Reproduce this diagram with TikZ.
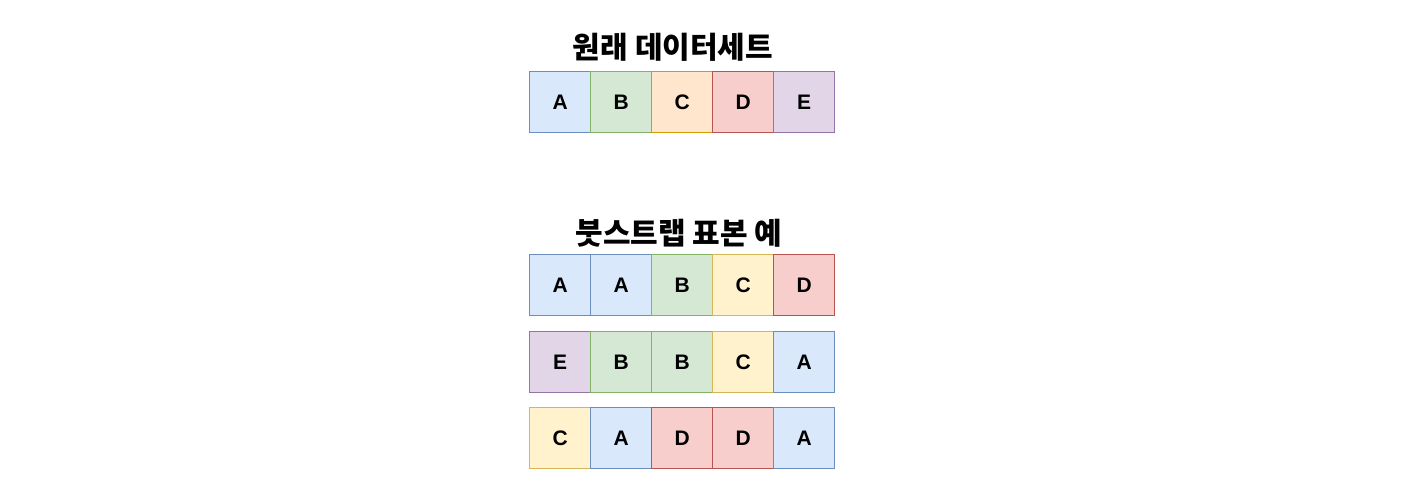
\documentclass[tikz,border=0pt]{standalone}
\usepackage{fontspec}
\setmainfont{Liberation Sans}
\newfontfamily\kor{Noto Sans CJK KR}
\definecolor{bfill}{HTML}{DAE8FC}\definecolor{bline}{HTML}{6C8EBF}
\definecolor{gfill}{HTML}{D5E8D4}\definecolor{gline}{HTML}{82B366}
\definecolor{ofill}{HTML}{FFE6CC}\definecolor{oline}{HTML}{D79B00}
\definecolor{rfill}{HTML}{F8CECC}\definecolor{rline}{HTML}{B85450}
\definecolor{pfill}{HTML}{E1D5E7}\definecolor{pline}{HTML}{9673A6}
\definecolor{yfill}{HTML}{FFF2CC}\definecolor{yline}{HTML}{D6B656}
\tikzset{
  cell/.style={minimum width=61pt,minimum height=61pt,inner sep=0pt,line width=1.4pt,font=\bfseries\fontsize{21}{23}\selectfont,anchor=north west},
  cb/.style={cell,fill=bfill,draw=bline},
  cg/.style={cell,fill=gfill,draw=gline},
  co/.style={cell,fill=ofill,draw=oline},
  cr/.style={cell,fill=rfill,draw=rline},
  cp/.style={cell,fill=pfill,draw=pline},
  cy/.style={cell,fill=yfill,draw=yline},
  ttl/.style={font=\kor\bfseries\fontsize{30}{32}\selectfont,inner sep=0pt}
}
\begin{document}
\begin{tikzpicture}[x=1pt,y=-1pt]
\useasboundingbox (0,0) rectangle (1422,498);
\node[ttl] (t1) at (673,47) {원래 데이터세트};
\node[cb] (a1) at (529,71) {A};
\node[cg] (a2) at (590,71) {B};
\node[co] (a3) at (651,71) {C};
\node[cr] (a4) at (712,71) {D};
\node[cp] (a5) at (773,71) {E};
\node[ttl] (t2) at (679,233) {붓스트랩 표본 예};
\node[cb] (b1) at (529,254) {A};
\node[cb] (b2) at (590,254) {A};
\node[cg] (b3) at (651,254) {B};
\node[cy] (b4) at (712,254) {C};
\node[cr] (b5) at (773,254) {D};
\node[cp] (c1) at (529,331) {E};
\node[cg] (c2) at (590,331) {B};
\node[cg] (c3) at (651,331) {B};
\node[cy] (c4) at (712,331) {C};
\node[cb] (c5) at (773,331) {A};
\node[cy] (d1) at (529,407) {C};
\node[cb] (d2) at (590,407) {A};
\node[cr] (d3) at (651,407) {D};
\node[cr] (d4) at (712,407) {D};
\node[cb] (d5) at (773,407) {A};
\end{tikzpicture}
\end{document}
